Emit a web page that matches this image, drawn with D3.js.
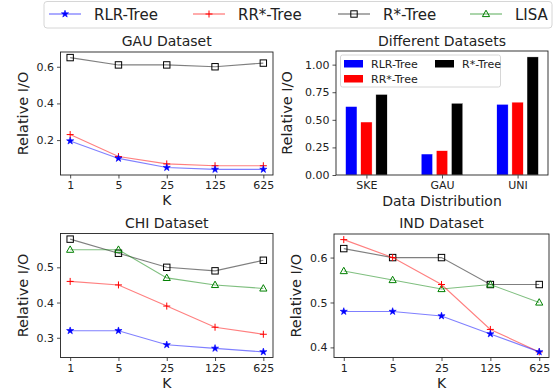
<!DOCTYPE html>
<html><head><meta charset="utf-8">
<script src="https://cdn.jsdelivr.net/npm/d3@7"></script>
<style>
body{margin:0;background:#fff;}
text{font-family:"DejaVu Sans",sans-serif;fill:#222;}
</style></head>
<body>
<svg id="c" width="558" height="391"></svg>
<script>
const kLabels = ["1","5","25","125","625"];
const seriesNames = ["RLR-Tree","RR*-Tree","R*-Tree","LISA"];
const seriesColors = ["#0000ff","#ff0000","#000000","#008000"];
const seriesMarkers = ["star","plus","square","triangle"];

const gauRLR = [0.195,0.10,0.05,0.04,0.04];
const gauRR  = [0.23,0.11,0.07,0.06,0.06];
const gauRS  = [0.65,0.61,0.61,0.60,0.62];

const chiRLR  = [0.32,0.32,0.28,0.27,0.26];
const chiRR   = [0.46,0.45,0.39,0.33,0.31];
const chiRS   = [0.58,0.54,0.50,0.49,0.52];
const chiLISA = [0.55,0.55,0.47,0.45,0.44];

const indRLR  = [0.48,0.48,0.47,0.43,0.39];
const indRR   = [0.64,0.60,0.54,0.44,0.39];
const indRS   = [0.62,0.60,0.60,0.54,0.54];
const indLISA = [0.57,0.55,0.53,0.54,0.50];

const barCats = ["SKE","GAU","UNI"];
const barNames = ["RLR-Tree","RR*-Tree","R*-Tree"];
const barRLR = [0.62,0.19,0.64];
const barRR  = [0.48,0.22,0.66];
const barRS  = [0.73,0.65,1.07];

const svg = d3.select("#c");

function marker(g, type, color, x, y){
  if(type==="star"){
    g.append("path").attr("d", d3.symbol().type(d3.symbolStar).size(16)())
      .attr("transform",`translate(${x},${y})`).attr("fill",color).attr("stroke",color).attr("stroke-width",0.6);
  } else if(type==="plus"){
    g.append("path").attr("d",`M${x-3.5},${y}H${x+3.5}M${x},${y-3.5}V${y+3.5}`)
      .attr("stroke",color).attr("stroke-width",1).attr("fill","none");
  } else if(type==="square"){
    g.append("rect").attr("x",x-3.2).attr("y",y-3.2).attr("width",6.4).attr("height",6.4)
      .attr("fill","none").attr("stroke",color).attr("stroke-width",1);
  } else if(type==="triangle"){
    g.append("path").attr("d",`M${x},${y-3.8}L${x+3.6},${y+2.6}L${x-3.6},${y+2.6}Z`)
      .attr("fill","none").attr("stroke",color).attr("stroke-width",1);
  }
}

function styleAxis(g){
  g.selectAll(".domain").remove();
  g.selectAll(".tick line").attr("stroke","#222").attr("stroke-width",0.8);
  g.selectAll(".tick text").attr("font-size","11px").attr("fill","#222");
}

function frame(x0,x1,y0,y1){
  svg.append("rect").attr("x",x0).attr("y",y0).attr("width",x1-x0).attr("height",y1-y0)
    .attr("fill","none").attr("stroke","#222").attr("stroke-width",0.9);
}

function linePanel(opt){
  const {x0,x1,y0,y1,dom,ticks,fmt,title,series} = opt;
  const x = d3.scaleLinear().domain([-0.2,4.2]).range([x0,x1]);
  const y = d3.scaleLinear().domain(dom).range([y1,y0]);
  const gx = svg.append("g").attr("transform",`translate(0,${y1})`)
    .call(d3.axisBottom(x).tickValues([0,1,2,3,4]).tickFormat(i=>kLabels[i]).tickSize(3.5).tickPadding(3));
  styleAxis(gx);
  const gy = svg.append("g").attr("transform",`translate(${x0},0)`)
    .call(d3.axisLeft(y).tickValues(ticks).tickFormat(d3.format(fmt)).tickSize(3.5).tickPadding(3));
  styleAxis(gy);
  const line = d3.line().x((d,i)=>x(i)).y(d=>y(d));
  const g = svg.append("g");
  series.forEach(s=>{
    g.append("path").attr("d",line(s.values)).attr("fill","none")
      .attr("stroke",seriesColors[s.idx]).attr("stroke-opacity",0.5).attr("stroke-width",1.1);
    s.values.forEach((v,i)=>marker(g,seriesMarkers[s.idx],seriesColors[s.idx],x(i),y(v)));
  });
  frame(x0,x1,y0,y1);
  svg.append("text").attr("x",(x0+x1)/2).attr("y",y0-6).attr("text-anchor","middle")
    .attr("font-size","14px").text(title);
  svg.append("text").attr("x",(x0+x1)/2).attr("y",y1+30).attr("text-anchor","middle")
    .attr("font-size","14px").text("K");
  svg.append("text").attr("transform",`translate(${x0-33},${(y0+y1)/2}) rotate(-90)`)
    .attr("text-anchor","middle").attr("font-size","14.5px").text("Relative I/O");
}

linePanel({x0:60.5,x1:273,y0:52,y1:175,dom:[0.0095,0.6805],ticks:[0.2,0.4,0.6],fmt:".1f",
  title:"GAU Dataset",series:[{idx:2,values:gauRS},{idx:1,values:gauRR},{idx:0,values:gauRLR}]});
linePanel({x0:60.5,x1:273,y0:233.5,y1:357.5,dom:[0.244,0.596],ticks:[0.3,0.4,0.5],fmt:".1f",
  title:"CHI Dataset",series:[{idx:2,values:chiRS},{idx:3,values:chiLISA},{idx:1,values:chiRR},{idx:0,values:chiRLR}]});
linePanel({x0:334,x1:549,y0:234,y1:357.5,dom:[0.3775,0.6525],ticks:[0.4,0.5,0.6],fmt:".1f",
  title:"IND Dataset",series:[{idx:2,values:indRS},{idx:3,values:indLISA},{idx:1,values:indRR},{idx:0,values:indRLR}]});

// Bar panel
(function(){
  const x0=336,x1=548,y0=51,y1=175;
  const x = d3.scaleLinear().domain([-0.4025,2.4025]).range([x0,x1]);
  const y = d3.scaleLinear().domain([0,1.1235]).range([y1,y0]);
  const gx = svg.append("g").attr("transform",`translate(0,${y1})`)
    .call(d3.axisBottom(x).tickValues([0,1,2]).tickFormat(i=>barCats[i]).tickSize(3.5).tickPadding(3));
  styleAxis(gx);
  const gy = svg.append("g").attr("transform",`translate(${x0},0)`)
    .call(d3.axisLeft(y).tickValues([0,0.25,0.5,0.75,1.0]).tickFormat(d3.format(".2f")).tickSize(3.5).tickPadding(3));
  styleAxis(gy);
  const vals=[barRLR,barRR,barRS];
  const cols=["#0000ff","#ff0000","#000000"];
  const off=[-0.2,0,0.2], w=0.15;
  vals.forEach((arr,s)=>{
    svg.append("g").selectAll("rect").data(arr).enter().append("rect")
      .attr("x",(d,i)=>x(i+off[s]-w/2)).attr("width",x(w)-x(0))
      .attr("y",d=>y(d)).attr("height",d=>y(0)-y(d))
      .attr("fill",cols[s]).attr("stroke","#fff").attr("stroke-width",0.4);
  });
  frame(x0,x1,y0,y1);
  // legend
  const lg = svg.append("g");
  lg.append("rect").attr("x",340.5).attr("y",55).attr("width",160).attr("height",32).attr("rx",2)
    .attr("fill","#fff").attr("fill-opacity",0.8).attr("stroke","#ccc").attr("stroke-width",0.8);
  const pos=[[344,60],[344,75],[435,60]];
  barNames.forEach((n,i)=>{
    lg.append("rect").attr("x",pos[i][0]).attr("y",pos[i][1]).attr("width",19).attr("height",7.5).attr("fill",cols[i]);
    lg.append("text").attr("x",pos[i][0]+27).attr("y",pos[i][1]+7.5).attr("font-size","11px").text(n);
  });
  svg.append("text").attr("x",(x0+x1)/2).attr("y",y0-5).attr("text-anchor","middle")
    .attr("font-size","14px").text("Different Datasets");
  svg.append("text").attr("x",(x0+x1)/2).attr("y",y1+31).attr("text-anchor","middle")
    .attr("font-size","14px").text("Data Distribution");
  svg.append("text").attr("transform",`translate(${x0-44},${(y0+y1)/2}) rotate(-90)`)
    .attr("text-anchor","middle").attr("font-size","14.5px").text("Relative I/O");
})();

// top legend
(function(){
  const g = svg.append("g");
  g.append("rect").attr("x",44).attr("y",1.5).attr("width",508).attr("height",26.5).attr("rx",3)
    .attr("fill","#fff").attr("stroke","#ccc").attr("stroke-width",0.8);
  const lx=[49,193,338,470];
  seriesNames.forEach((n,i)=>{
    g.append("line").attr("x1",lx[i]).attr("x2",lx[i]+32).attr("y1",14).attr("y2",14)
      .attr("stroke",seriesColors[i]).attr("stroke-opacity",0.6).attr("stroke-width",1.1);
    marker(g,seriesMarkers[i],seriesColors[i],lx[i]+16,14);
    g.append("text").attr("x",lx[i]+45).attr("y",19.5).attr("font-size","15px").text(n);
  });
})();
</script>
</body></html>
